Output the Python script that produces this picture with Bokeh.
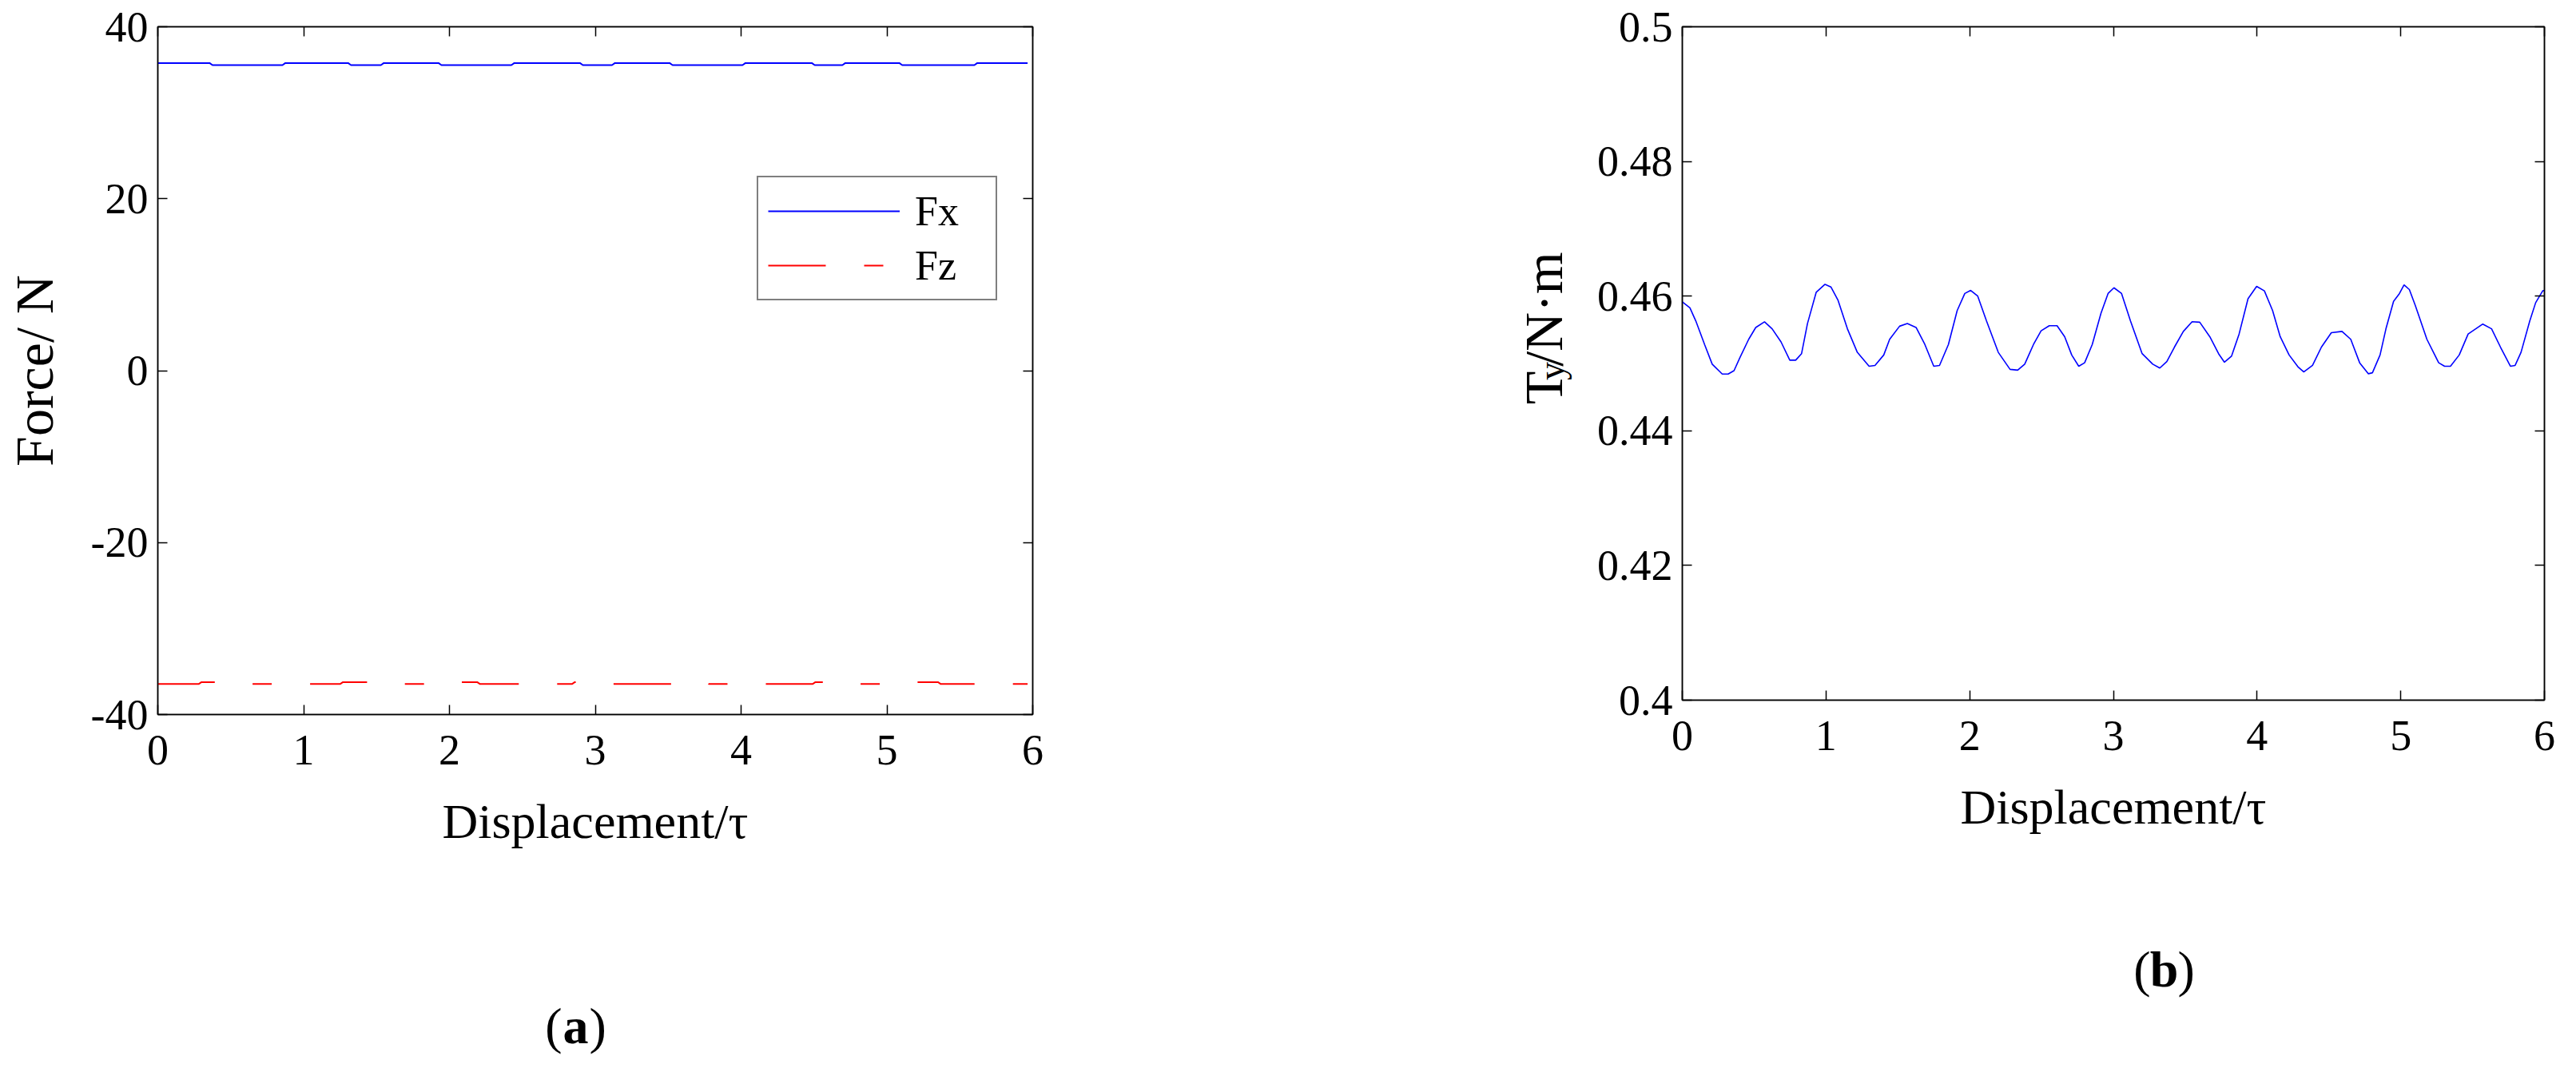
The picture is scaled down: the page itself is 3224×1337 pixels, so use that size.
import math
from bokeh.plotting import figure
from bokeh.models import LinearAxis, FixedTicker, Range1d
from bokeh.layouts import row, column
from bokeh.core.properties import value
from bokeh.embed import file_html
from bokeh.resources import INLINE

# ---------------- data ----------------
x_ticks = [0, 1, 2, 3, 4, 5, 6]
force_ticks = [-40, -20, 0, 20, 40]
force_tick_labels = ["-40", "-20", "0", "20", "40"]
torque_ticks = [0.40, 0.42, 0.44, 0.46, 0.48, 0.50]
torque_tick_labels = ["0.4", "0.42", "0.44", "0.46", "0.48", "0.5"]

fx_x = [0, 0.355, 0.375, 0.855, 0.875, 1.305, 1.325, 1.53, 1.55, 1.925, 1.945,
        2.425, 2.445, 2.895, 2.915, 3.115, 3.135, 3.51, 3.53, 4.01, 4.03,
        4.485, 4.505, 4.695, 4.715, 5.085, 5.105, 5.60, 5.62, 5.965]
fx_y = [35.78, 35.78, 35.54, 35.54, 35.78, 35.78, 35.54, 35.54, 35.78, 35.78,
        35.54, 35.54, 35.78, 35.78, 35.54, 35.54, 35.78, 35.78, 35.54, 35.54,
        35.78, 35.78, 35.54, 35.54, 35.78, 35.78, 35.54, 35.54, 35.78, 35.78]

fz_x = [0, 0.28, 0.30, 0.55, 0.57, 1.25, 1.27, 1.50, 1.52, 1.97, 1.99,
        2.19, 2.21, 2.84, 2.86, 3.08, 3.10, 3.54, 3.56, 3.76, 3.78,
        4.49, 4.51, 4.71, 4.73, 5.04, 5.06, 5.35, 5.37, 5.965]
fz_y = [-36.45, -36.45, -36.23, -36.23, -36.45, -36.45, -36.23, -36.23, -36.45, -36.45,
        -36.23, -36.23, -36.45, -36.45, -36.23, -36.23, -36.45, -36.45, -36.23, -36.23,
        -36.45, -36.45, -36.23, -36.23, -36.45, -36.45, -36.23, -36.23, -36.45, -36.45]

ty_x = [0.000, 0.053, 0.094, 0.155, 0.208, 0.278, 0.319, 0.360, 0.401, 0.462,
        0.511, 0.572, 0.625, 0.687, 0.748, 0.789, 0.830, 0.871, 0.932, 0.993,
        1.034, 1.083, 1.149, 1.218, 1.300, 1.341, 1.402, 1.443, 1.512, 1.566,
        1.627, 1.688, 1.750, 1.790, 1.852, 1.913, 1.966, 2.007, 2.056, 2.117,
        2.199, 2.281, 2.334, 2.383, 2.444, 2.497, 2.554, 2.608, 2.661, 2.710,
        2.759, 2.800, 2.853, 2.914, 2.963, 3.004, 3.057, 3.119, 3.200, 3.274,
        3.323, 3.372, 3.425, 3.487, 3.548, 3.601, 3.671, 3.732, 3.773, 3.822,
        3.875, 3.937, 3.997, 4.051, 4.108, 4.161, 4.223, 4.284, 4.325, 4.386,
        4.448, 4.517, 4.591, 4.652, 4.714, 4.775, 4.803, 4.856, 4.897, 4.950,
        4.991, 5.023, 5.060, 5.101, 5.182, 5.264, 5.305, 5.346, 5.407, 5.469,
        5.571, 5.632, 5.694, 5.763, 5.796, 5.837, 5.898, 5.939, 5.988, 6.000]
ty_y = [0.45915, 0.45825, 0.45631, 0.45282, 0.44990, 0.44843, 0.44843, 0.44893, 0.45087, 0.45359,
        0.45534, 0.45619, 0.45515, 0.45320, 0.45049, 0.45049, 0.45146, 0.45592, 0.46058, 0.46175,
        0.46136, 0.45942, 0.45515, 0.45165, 0.44959, 0.44971, 0.45126, 0.45359, 0.45553, 0.45592,
        0.45534, 0.45282, 0.44959, 0.44971, 0.45282, 0.45786, 0.46039, 0.46085, 0.46000, 0.45631,
        0.45165, 0.44913, 0.44901, 0.44990, 0.45282, 0.45484, 0.45561, 0.45561, 0.45398, 0.45126,
        0.44959, 0.45010, 0.45282, 0.45748, 0.46039, 0.46124, 0.46039, 0.45631, 0.45146, 0.44990,
        0.44932, 0.45029, 0.45243, 0.45476, 0.45619, 0.45612, 0.45398, 0.45146, 0.45018, 0.45107,
        0.45437, 0.45961, 0.46144, 0.46078, 0.45786, 0.45398, 0.45126, 0.44952, 0.44874, 0.44971,
        0.45243, 0.45456, 0.45476, 0.45359, 0.45010, 0.44847, 0.44862, 0.45126, 0.45515, 0.45922,
        0.46039, 0.46167, 0.46097, 0.45864, 0.45359, 0.45010, 0.44959, 0.44959, 0.45126, 0.45437,
        0.45585, 0.45515, 0.45243, 0.44959, 0.44971, 0.45165, 0.45631, 0.45903, 0.46078, 0.46085]

caption_letters = ["a", "b"]
ty_label_parts = ["T", "y", "/N·m"]

# ---------------- style ----------------
FONT = "Liberation Serif"
TICK_FS = "54px"
XLABEL_FS = "62px"
YLABEL_FS = "68px"
CAP_FS = "64px"
PLOT_H = 1170          # height of the row with the two charts
CAP_H = 151            # height of the caption strip below them


def blank_fig(width, height):
    f = figure(width=width, height=height, x_range=Range1d(0, width), y_range=Range1d(0, height),
               min_border=0, title=None, x_axis_type=None, y_axis_type=None,
               output_backend="svg", toolbar_location=None)
    f.outline_line_color = None
    f.xgrid.visible = False
    f.ygrid.visible = False
    f.background_fill_color = "white"
    f.border_fill_color = "white"
    return f


def style_axes(p, xticks, yticks, ylabels, xlabel, ylabel=None, ylabel_standoff=0):
    p.xaxis.ticker = FixedTicker(ticks=xticks)
    p.yaxis.ticker = FixedTicker(ticks=yticks)
    p.yaxis.major_label_overrides = {t: l for t, l in zip(yticks, ylabels)}
    for ax in p.xaxis + p.yaxis:
        ax.major_tick_in = 12
        ax.major_tick_out = 0
        ax.minor_tick_line_color = None
        ax.axis_line_width = 1.5
        ax.major_tick_line_width = 1.5
        ax.major_label_text_font = FONT
        ax.major_label_text_font_size = TICK_FS
        ax.major_label_text_color = "black"
        ax.axis_label_text_font = FONT
        ax.axis_label_text_font_style = "normal"
        ax.axis_label_text_color = "black"
    p.xaxis.major_label_standoff = 26
    p.yaxis.major_label_standoff = 12
    p.xaxis.axis_label = xlabel
    p.xaxis.axis_label_text_font_size = XLABEL_FS
    p.xaxis.axis_label_standoff = 34
    if ylabel:
        p.yaxis.axis_label = ylabel
        p.yaxis.axis_label_text_font_size = YLABEL_FS
        p.yaxis.axis_label_standoff = ylabel_standoff
    # mirrored axes (box on)
    top = LinearAxis(ticker=FixedTicker(ticks=xticks), major_tick_in=12, major_tick_out=0,
                     minor_tick_line_color=None, axis_line_width=1.5, major_tick_line_width=1.5,
                     major_label_text_font_size="1px", major_label_text_color=None)
    right = LinearAxis(ticker=FixedTicker(ticks=yticks), major_tick_in=12, major_tick_out=0,
                       minor_tick_line_color=None, axis_line_width=1.5, major_tick_line_width=1.5,
                       major_label_text_font_size="1px", major_label_text_color=None)
    p.add_layout(top, "above")
    p.add_layout(right, "right")
    p.xgrid.visible = False
    p.ygrid.visible = False
    p.outline_line_color = "black"
    p.outline_line_width = 1.5
    p.background_fill_color = "white"
    p.border_fill_color = "white"


def caption_fig(width, letter, cx, baseline):
    c = blank_fig(width, CAP_H)
    kw = dict(text_font=value(FONT), text_font_size=value(CAP_FS), text_color="black",
              text_baseline="alphabetic")
    c.text(x=[cx], y=[baseline], text=[letter], text_align="center",
           text_font_style="bold", **kw)
    c.text(x=[cx - 17], y=[baseline], text=["("], text_align="right", **kw)
    c.text(x=[cx + 17], y=[baseline], text=[")"], text_align="left", **kw)
    return c


# ---------------- figure (a) ----------------
A_LEFT, A_TOP, A_W, A_H = 197, 33, 1095, 861
A_FIG_W = 1600
p1 = figure(frame_width=A_W, frame_height=A_H, title=None,
            min_border_left=A_LEFT, min_border_top=A_TOP,
            min_border_right=A_FIG_W - A_LEFT - A_W,
            min_border_bottom=PLOT_H - A_TOP - A_H,
            x_range=Range1d(0, 6), y_range=Range1d(-40, 40),
            output_backend="svg", toolbar_location=None)
style_axes(p1, x_ticks, force_ticks, force_tick_labels,
           "Displacement/τ", "Force/ N", 30)

p1.line(fx_x, fx_y, line_color="#0000FF", line_width=2, legend_label="Fx")
p1.line(fz_x, fz_y, line_color="#FF0000", line_width=2, line_dash="72 48 24 48",
        legend_label="Fz")

lg = p1.legend[0]
lg.location = (750, 518)
lg.border_line_color = "black"
lg.border_line_width = 2
lg.background_fill_alpha = 1.0
lg.padding = 12
lg.spacing = 8
lg.margin = 0
lg.glyph_width = 165
lg.glyph_height = 60
lg.label_height = 60
lg.label_width = 89
lg.label_standoff = 19
lg.label_text_font = FONT
lg.label_text_font_size = "52px"
lg.label_text_color = "black"

# ---------------- y label strip for (b): T_y/N·m ----------------
LBL_W = 390
lbl = blank_fig(LBL_W, PLOT_H)
rot = dict(angle=math.pi / 2, text_font=value(FONT), text_color="black",
           text_align="left", text_baseline="alphabetic")
lbl.text(x=[331], y=[513], text=[ty_label_parts[0]], text_font_size=value(YLABEL_FS), **rot)
lbl.text(x=[341], y=[555], text=[ty_label_parts[1]], text_font_size=value("46px"), **rot)
lbl.text(x=[331], y=[579], text=[ty_label_parts[2]], text_font_size=value(YLABEL_FS), **rot)

# ---------------- figure (b) ----------------
B_LEFT, B_TOP, B_W, B_H = 505 - LBL_W, 32, 1079, 843
B_FIG_W = 1608 - LBL_W
p2 = figure(frame_width=B_W, frame_height=B_H, title=None,
            min_border_left=B_LEFT, min_border_top=B_TOP,
            min_border_right=B_FIG_W - B_LEFT - B_W,
            min_border_bottom=PLOT_H - B_TOP - B_H,
            x_range=Range1d(0, 6), y_range=Range1d(0.4, 0.5),
            output_backend="svg", toolbar_location=None)
style_axes(p2, x_ticks, torque_ticks, torque_tick_labels, "Displacement/τ")
p2.line(ty_x, ty_y, line_color="#0000FF", line_width=1.6)

# ---------------- captions ----------------
c1 = caption_fig(A_FIG_W, caption_letters[0], 720, 37)
c2 = caption_fig(LBL_W + B_FIG_W, caption_letters[1], 1108, 108)

layout = column(row(p1, lbl, p2), row(c1, c2))
open("out.html", "w").write(file_html(layout, INLINE))
